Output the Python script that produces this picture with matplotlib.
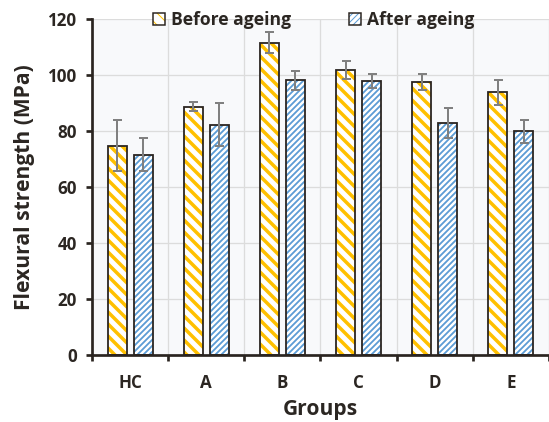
import numpy as np
import matplotlib
matplotlib.use('Agg')
import matplotlib.pyplot as plt
from matplotlib.patches import Patch
from matplotlib.legend_handler import HandlerTuple

groups = ['HC', 'A', 'B', 'C', 'D', 'E']
before = [74.7, 88.6, 111.5, 101.7, 97.5, 93.7]
before_err = [9.0, 1.5, 3.8, 3.3, 2.8, 4.6]
after = [71.5, 82.2, 98.0, 97.8, 82.8, 79.8]
after_err = [5.9, 7.7, 3.3, 2.4, 5.2, 4.0]
yticks = [0, 20, 40, 60, 80, 100, 120]

ORANGE = '#FFC000'
BLUE = '#5B9BD5'
EDGE = '#2A2420'
TEXT = '#2B2622'
GRID = '#DCDCDC'
ERR = '#808080'

HATCH_B = '\\\\'
HATCH_A = '////'

plt.rcParams['font.family'] = ['Open Sans', 'DejaVu Sans']
plt.rcParams['font.weight'] = 'bold'

# dpi 72 so that points == pixels
DPI = 72
fig = plt.figure(figsize=(549 / DPI, 422 / DPI), dpi=DPI)
ax = fig.add_axes([92 / 549, 67 / 422, 457 / 549, 336.3 / 422])
ax.set_facecolor('#F8F9FB')

x = np.arange(len(groups))
w = 0.25
off = 0.17

# hatch colour follows edgecolor, so fill+hatch first, dark outline on top
with plt.rc_context({'hatch.linewidth': 3.5}):
    ax.bar(x - off, before, w, color='white', edgecolor=ORANGE,
           hatch=HATCH_B, linewidth=0, zorder=2)
    hb = Patch(facecolor='white', edgecolor=ORANGE, hatch=HATCH_B, linewidth=0)
with plt.rc_context({'hatch.linewidth': 1.8}):
    ax.bar(x + off, after, w, color='white', edgecolor=BLUE,
           hatch=HATCH_A, linewidth=0, zorder=2)
    ha = Patch(facecolor='white', edgecolor=BLUE, hatch=HATCH_A, linewidth=0)

ax.bar(x - off, before, w, color='none', edgecolor=EDGE, linewidth=1.8, zorder=3)
ax.bar(x + off, after, w, color='none', edgecolor=EDGE, linewidth=1.8, zorder=3)

ax.errorbar(x - off, before, yerr=before_err, fmt='none', ecolor=ERR,
            elinewidth=2, capsize=4.5, capthick=2, zorder=4)
ax.errorbar(x + off, after, yerr=after_err, fmt='none', ecolor=ERR,
            elinewidth=2, capsize=4.5, capthick=2, zorder=4)

ax.set_xlim(-0.5, 5.466)
ax.set_ylim(0, 120)
ax.set_yticks(yticks)
ax.set_xticks(x)
ax.set_xticklabels(groups)
ax.set_xticks(np.arange(-0.5, 6, 1), minor=True)

ax.tick_params(axis='x', which='major', length=0, pad=19,
               labelsize=17, labelcolor=TEXT)
ax.tick_params(axis='x', which='minor', length=6, width=2.7,
               direction='out', color=EDGE)
ax.tick_params(axis='y', length=6, width=2.7, direction='out',
               color=EDGE, labelsize=17, labelcolor=TEXT, pad=9)

ax.grid(axis='y', which='major', color=GRID, linewidth=1.3, zorder=0)
ax.grid(axis='x', which='minor', color=GRID, linewidth=1.3, zorder=0)
ax.set_axisbelow(True)

for side in ['top', 'right']:
    ax.spines[side].set_visible(False)
for side in ['left', 'bottom']:
    ax.spines[side].set_linewidth(2.7)
    ax.spines[side].set_color(EDGE)

ax.set_ylabel('Flexural strength (MPa)', fontsize=21, color=TEXT,
              fontweight='bold', labelpad=13)
ax.set_xlabel('Groups', fontsize=21, color=TEXT, fontweight='bold',
              labelpad=7)

outline = Patch(facecolor='none', edgecolor=EDGE, linewidth=1.5)
leg = fig.legend([(hb, outline), (ha, outline)],
                 ['Before ageing', 'After ageing'], ncol=2,
                 handler_map={tuple: HandlerTuple(ndivide=1)},
                 loc='center', bbox_to_anchor=(314 / 549, 1 - 20 / 422),
                 frameon=False, fontsize=17.5, handlelength=0.69,
                 handleheight=0.69, handletextpad=0.35, columnspacing=3.3,
                 borderpad=0)
for t in leg.get_texts():
    t.set_color(TEXT)

fig.savefig('out.png', dpi=DPI)
